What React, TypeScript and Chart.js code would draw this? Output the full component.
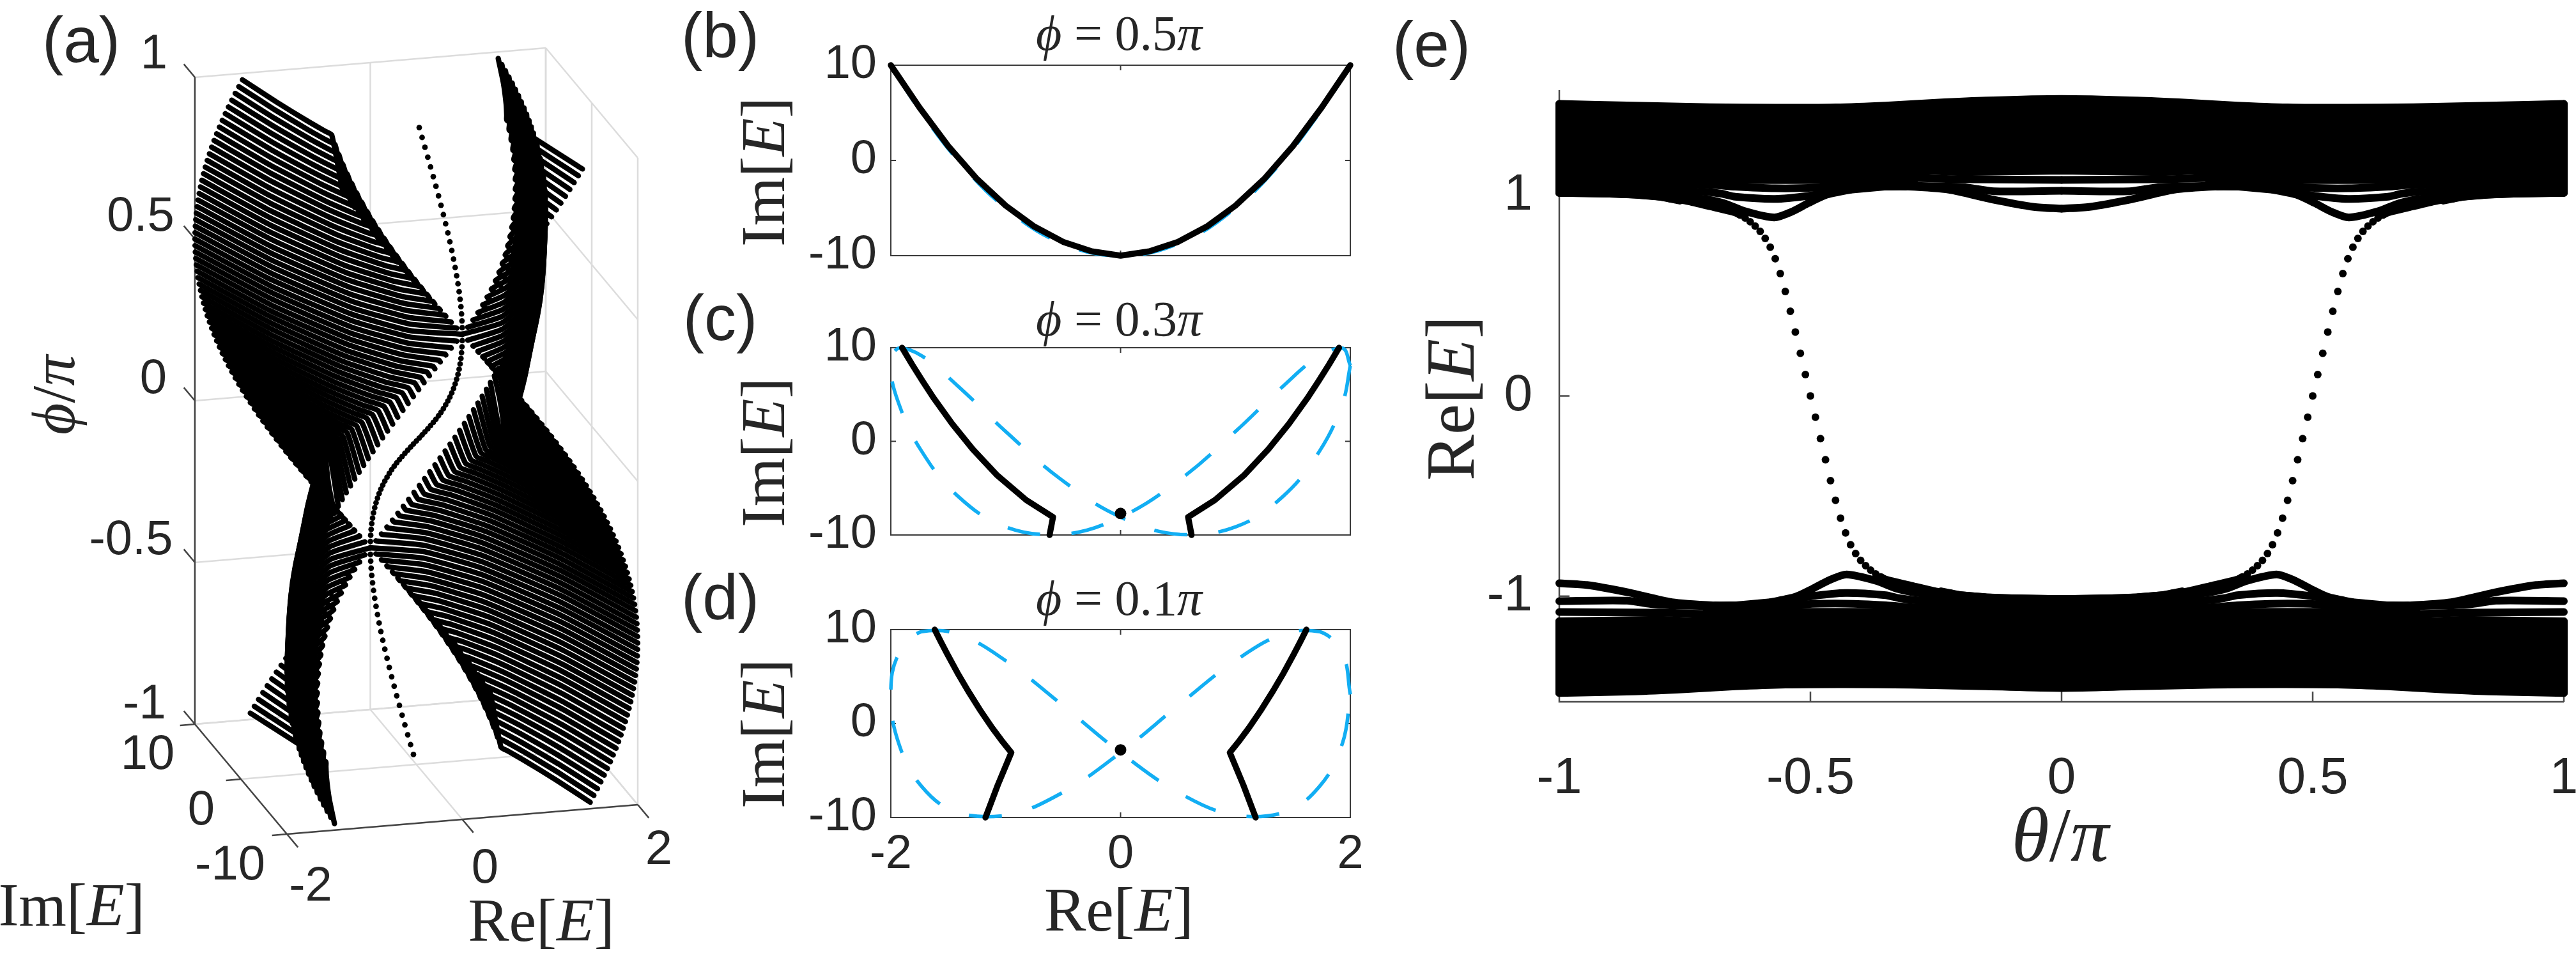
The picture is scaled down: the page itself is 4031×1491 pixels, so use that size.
import React, { useEffect, useRef } from "react";
import { Chart, registerables } from "chart.js";
Chart.register(...registerables);

// DATA PROVENANCE: stripeRows and the blue/black curves of (b)-(d) are hand-typed estimates from
// curve relations fitted to readings of panels (b)-(d), checked against the reference; they were
// not each read point by point. Mirrored sheets in (a) and lens curves in (e) reuse one table,
// relying on the symmetry seen in the reference. The (e) dots were read one by one on one side
// and mirrored; the (e) band edges are estimates.

// ---------- panel (a): one quarter-sheet of the 3D surface, left branch, phi = 0, 0.02 ... 0.5
// columns: Re at Im=10 | Re,Im | Re,Im | Re,Im | kink Re,Im | Re at Im=-10 (Re magnitudes)
const stripeRows = [
  [1.414, 1.265, 6.0, 1.118, 2.5, 1.034, 0.7, 1.0, 0, 1.414],
  [1.458, 1.294, 5.75, 1.131, 2.03, 1.037, 0.12, 0.998, -0.63, 1.369],
  [1.5, 1.321, 5.5, 1.141, 1.56, 1.036, -0.47, 0.992, -1.25, 1.323],
  [1.541, 1.346, 5.25, 1.148, 1.09, 1.031, -1.04, 0.982, -1.87, 1.275],
  [1.58, 1.369, 5.01, 1.152, 0.63, 1.023, -1.61, 0.969, -2.49, 1.226],
  [1.618, 1.39, 4.76, 1.155, 0.18, 1.012, -2.17, 0.951, -3.09, 1.176],
  [1.654, 1.41, 4.53, 1.154, -0.26, 0.998, -2.72, 0.93, -3.68, 1.124],
  [1.689, 1.428, 4.3, 1.152, -0.69, 0.98, -3.26, 0.905, -4.26, 1.072],
  [1.721, 1.444, 4.07, 1.148, -1.11, 0.96, -3.78, 0.876, -4.82, 1.018],
  [1.753, 1.459, 3.86, 1.141, -1.52, 0.937, -4.28, 0.844, -5.36, 0.964],
  [1.782, 1.472, 3.65, 1.133, -1.91, 0.912, -4.77, 0.809, -5.88, 0.908],
  [1.81, 1.484, 3.45, 1.124, -2.28, 0.884, -5.23, 0.771, -6.37, 0.852],
  [1.835, 1.495, 3.26, 1.114, -2.63, 0.854, -5.67, 0.729, -6.85, 0.794],
  [1.86, 1.504, 3.08, 1.103, -2.97, 0.823, -6.08, 0.685, -7.29, 0.736],
  [1.882, 1.512, 2.92, 1.091, -3.28, 0.791, -6.47, 0.637, -7.71, 0.677],
  [1.902, 1.52, 2.76, 1.079, -3.57, 0.758, -6.82, 0.588, -8.09, 0.618],
  [1.921, 1.526, 2.62, 1.067, -3.83, 0.725, -7.15, 0.536, -8.44, 0.558],
  [1.937, 1.531, 2.49, 1.055, -4.07, 0.692, -7.45, 0.482, -8.76, 0.497],
  [1.952, 1.536, 2.38, 1.043, -4.29, 0.66, -7.71, 0.426, -9.05, 0.436],
  [1.965, 1.539, 2.28, 1.033, -4.47, 0.629, -7.95, 0.368, -9.3, 0.375],
  [1.975, 1.543, 2.2, 1.023, -4.63, 0.602, -8.15, 0.309, -9.51, 0.313],
  [1.984, 1.545, 2.13, 1.015, -4.76, 0.577, -8.31, 0.249, -9.69, 0.251],
  [1.991, 1.547, 2.07, 1.009, -4.87, 0.557, -8.44, 0.187, -9.82, 0.188],
  [1.996, 1.548, 2.03, 1.004, -4.94, 0.542, -8.53, 0.125, -9.92, 0.126],
  [1.999, 1.549, 2.01, 1.001, -4.99, 0.532, -8.58, 0.063, -9.98, 0.063],
  [2.0, 1.549, 2.0, 1.0, -5.0, 0.529, -8.6, 0, -10, 0],
];
const aReTicks = [-2, 0, 2];
const aImTicks = [-10, 0, 10];
const aPhiTicks = [-1, -0.5, 0, 0.5, 1];

// ---------- panels (b)-(d)
const reTicks = [-2, 0, 2];
const imTicks = [-10, 0, 10];
const bBlackRe = [-2, -1.75, -1.5, -1.25, -1, -0.75, -0.5, -0.25, 0, 0.25, 0.5, 0.75, 1, 1.25, 1.5, 1.75, 2];
const bBlackIm = [10, 5.55, 1.5, -1.95, -4.75, -6.95, -8.55, -9.55, -10, -9.55, -8.55, -6.95, -4.75, -1.95, 1.5, 5.55, 10];
const bBlueRe = [2, 1.932, 1.732, 1.414, 1, 0.518, 0, -0.518, -1, -1.414, -1.732, -1.932, -2];
const bBlueIm = [10, 8.66, 5, 0, -5, -8.66, -10, -8.66, -5, 0, 5, 8.66, 10];

const cBlackRe = [1.902, 1.814, 1.721, 1.624, 1.465, 1.286, 1.079, 0.82, 0.588, 0.618];
const cBlackIm = [10, 8.19, 6.38, 4.57, 1.86, -0.85, -3.57, -6.28, -8.09, -10];
const cBlueRe = [2, 1.932, 1.732, 1.414, 1, 0.518, 0, -0.518, -1, -1.414, -1.732, -1.932, -2, -1.932, -1.732, -1.414, -1, -0.518, 0, 0.518, 1, 1.414, 1.732, 1.932, 2];
const cBlueIm = [8.09, 9.95, 9.14, 5.88, 1.05, -4.07, -8.09, -9.95, -9.14, -5.88, -1.05, 4.07, 8.09, 9.95, 9.14, 5.88, 1.05, -4.07, -8.09, -9.95, -9.14, -5.88, -1.05, 4.07, 8.09];
const cDotIm = -7.7;

const dBlackRe = [1.618, 1.564, 1.508, 1.421, 1.327, 1.226, 1.117, 1.037, 0.951, 1.069, 1.176];
const dBlackIm = [10, 8.69, 7.38, 5.42, 3.46, 1.49, -0.47, -1.78, -3.09, -6.55, -10];
const dBlueRe = cBlueRe;
const dBlueIm = [3.09, 7.43, 9.78, 9.51, 6.69, 2.08, -3.09, -7.43, -9.78, -9.51, -6.69, -2.08, 3.09, 7.43, 9.78, 9.51, 6.69, 2.08, -3.09, -7.43, -9.78, -9.51, -6.69, -2.08, 3.09];
const dDotIm = -2.8;

// ---------- panel (e)
const eThetaTicks = [-1, -0.5, 0, 0.5, 1];
const eEnergyTicks = [-1, 0, 1];
const eDotTheta = [-0.64, -0.63, -0.62, -0.61, -0.6, -0.59, -0.58, -0.57, -0.56, -0.55, -0.54, -0.53, -0.52, -0.51, -0.5, -0.49, -0.48, -0.47, -0.46, -0.45, -0.44, -0.43, -0.42, -0.41, -0.4, -0.39, -0.38, -0.37, -0.36];
const eDotEnergy = [0.904, 0.889, 0.87, 0.848, 0.822, 0.787, 0.743, 0.685, 0.611, 0.522, 0.423, 0.319, 0.213, 0.107, 0, -0.106, -0.213, -0.318, -0.423, -0.521, -0.61, -0.684, -0.743, -0.787, -0.821, -0.847, -0.87, -0.889, -0.904];
const upperOuterTheta = [-1, -0.85, -0.7, -0.57, -0.45, -0.35, -0.25, -0.15, 0, 0.15, 0.25, 0.35, 0.45, 0.57, 0.7, 0.85, 1];
const upperOuterE = [1.458, 1.45, 1.442, 1.439, 1.441, 1.45, 1.464, 1.475, 1.483, 1.475, 1.464, 1.45, 1.441, 1.439, 1.442, 1.45, 1.458];
const upperInnerTheta = [-1, -0.9, -0.85, -0.8, -0.76, -0.72, -0.6, -0.44, -0.42, -0.35, -0.31, -0.27, -0.2, 0, 0.2, 0.27, 0.31, 0.35, 0.42, 0.44, 0.6, 0.72, 0.76, 0.8, 0.85, 0.9, 1];
const upperInnerE = [1.014, 1.01, 1.005, 0.995, 0.975, 1.078, 1.078, 1.078, 1.03, 1.046, 1.046, 1.125, 1.118, 1.125, 1.118, 1.125, 1.046, 1.046, 1.03, 1.078, 1.078, 1.078, 0.975, 0.995, 1.005, 1.01, 1.014];
const lowerOuterTheta = [-1, -0.85, -0.75, -0.65, -0.55, -0.43, -0.3, -0.15, 0, 0.15, 0.3, 0.43, 0.55, 0.65, 0.75, 0.85, 1];
const lowerOuterE = [-1.483, -1.475, -1.464, -1.45, -1.441, -1.439, -1.442, -1.45, -1.458, -1.45, -1.442, -1.439, -1.441, -1.45, -1.464, -1.475, -1.483];
const lowerInnerTheta = [-1, -0.8, -0.73, -0.69, -0.65, -0.58, -0.56, -0.28, -0.24, -0.2, -0.15, -0.1, 0, 0.1, 0.15, 0.2, 0.24, 0.28, 0.56, 0.58, 0.65, 0.69, 0.73, 0.8, 1];
const lowerInnerE = [-1.125, -1.118, -1.125, -1.046, -1.046, -1.03, -1.078, -1.078, -0.975, -0.995, -1.005, -1.01, -1.014, -1.01, -1.005, -0.995, -0.975, -1.078, -1.078, -1.03, -1.046, -1.046, -1.125, -1.118, -1.125];
// curves read on the upper band for theta <= 0
const edgeTheta = [-1, -0.9, -0.85, -0.8, -0.75, -0.7, -0.65, -0.64];
const edgeE = [1.014, 1.01, 1.005, 0.995, 0.976, 0.947, 0.917, 0.904];
const lensA1Theta = [-0.35, -0.31, -0.224, -0.139, -0.055, 0];
const lensA1E = [1.046, 1.046, 1.03, 0.982, 0.944, 0.935];
const lensA2Theta = [-0.31, -0.22, -0.186, -0.135, 0];
const lensA2E = [1.05, 1.045, 1.04, 1.022, 1.024];
const lensA3Theta = [-0.31, -0.2, 0];
const lensA3E = [1.09, 1.082, 1.079];
const lensB1Theta = [-0.78, -0.72, -0.673, -0.631, -0.572, -0.538, -0.504, -0.47, -0.42];
const lensB1E = [0.985, 0.985, 0.963, 0.923, 0.891, 0.919, 0.963, 1.003, 1.03];
const lensB2Theta = [-0.78, -0.72, -0.677, -0.65, -0.57, -0.504, -0.47, -0.42];
const lensB2E = [0.99, 1.02, 1.01, 0.995, 0.984, 0.999, 1.015, 1.04];
const lensB3Theta = [-0.78, -0.74, -0.7, -0.65, -0.57, -0.49, -0.42];
const lensB3E = [1.0, 1.05, 1.055, 1.045, 1.037, 1.04, 1.055];

// ---------- helpers
const zip = (xs: number[], ys: number[]) => xs.map((x, i) => ({ x, y: ys[i] }));
const INK = "#262626";
const SANS = "'Liberation Sans', Arial, sans-serif";
const SERIF = "'Liberation Serif', serif";

// ----- panel (a) view of the 3D box
const A_ORIGIN_X = 651.5, A_ORIGIN_Y = 690, A_RE_PX = 137.25, A_PHI_PX = 506;
const project = (re: number, im: number, phi: number) => ({
  x: re - (7.2 / 137.25) * im,
  y: phi + (11.5 / 506) * re + (8.6 / 506) * im,
});
const seg = (p: number[], q: number[], color: string, w: number, order: number) => ({
  data: [project(p[0], p[1], p[2]), project(q[0], q[1], q[2])],
  showLine: true, borderColor: color, borderWidth: w, pointRadius: 0, clip: false, order,
});

function panelAConfig(box: { left: number; top: number; width: number; height: number }) {
  const grey = "#dcdcdc", dark = "#444444";
  const ds: any[] = [];
  // back and right walls, floor
  aPhiTicks.forEach((p) => {
    ds.push(seg([-2, 10, p], [2, 10, p], grey, 2.5, 4));
    ds.push(seg([2, 10, p], [2, -10, p], grey, 2.5, 4));
  });
  aReTicks.forEach((r) => {
    ds.push(seg([r, 10, -1], [r, 10, 1], grey, 2.5, 4));
    ds.push(seg([r, 10, -1], [r, -10, -1], grey, 2.5, 4));
  });
  aImTicks.forEach((im) => {
    ds.push(seg([2, im, -1], [2, im, 1], grey, 2.5, 4));
    ds.push(seg([-2, im, -1], [2, im, -1], grey, 2.5, 4));
  });
  // front axes and their outward ticks
  ds.push(seg([-2, 10, -1], [-2, 10, 1], dark, 2.5, 3));
  ds.push(seg([-2, 10, -1], [-2, -10, -1], dark, 2.5, 3));
  ds.push(seg([-2, -10, -1], [2, -10, -1], dark, 2.5, 3));
  aPhiTicks.forEach((p) => ds.push(seg([-2, 10, p], [-2, 12.4, p], dark, 2.5, 3)));
  aReTicks.forEach((r) => ds.push(seg([r, -10, -1], [r, -12.4, -1], dark, 2.5, 3)));
  aImTicks.forEach((im) => ds.push(seg([-2, im, -1], [-2.17, im, -1], dark, 2.5, 3)));

  // surface stripes: the one table is reused for the sheets related by the picture's symmetries
  const dots: any[] = [];
  for (let k = -49; k <= 49; k++) {
    const phi = 0.02 * k;
    const a = Math.abs(k);
    const row = stripeRows[a <= 25 ? a : 50 - a];
    const sign = k < 0 ? -1 : 1;
    const re = [row[0], row[1], row[3], row[5], row[7], row[9]];
    const im = [10, row[2], row[4], row[6], row[8], -10];
    [-1, 1].forEach((side) => {
      ds.push({
        data: re.map((r, i) => project(side * r, sign * im[i], phi)),
        showLine: true, borderColor: "#000", borderWidth: 8.3, pointRadius: 0, clip: false,
        borderCapStyle: "round", borderJoinStyle: "round", tension: 0.15, order: 2,
      });
    });
    dots.push(project(0, sign * row[8], phi));
  }
  ds.push({ data: dots, showLine: false, pointRadius: 4.4, pointBackgroundColor: "#000", pointBorderWidth: 0, clip: false, order: 1 });
  return {
    type: "scatter",
    data: { datasets: ds },
    options: {
      responsive: false, animation: false, devicePixelRatio: 1, events: [],
      layout: { autoPadding: false, padding: 0 },
      plugins: { legend: { display: false }, tooltip: { enabled: false } },
      scales: {
        x: { display: false, min: (box.left - A_ORIGIN_X) / A_RE_PX, max: (box.left + box.width - A_ORIGIN_X) / A_RE_PX },
        y: { display: false, min: (A_ORIGIN_Y - box.top - box.height) / A_PHI_PX, max: (A_ORIGIN_Y - box.top) / A_PHI_PX },
      },
    },
  };
}

// ----- MATLAB-like frame with inward ticks, drawn from the chart's own scales
const framePlugin = (boxed: boolean, tickLen: number, width: number, color: string) => ({
  id: "matlabFrame",
  beforeDatasetsDraw(chart: any) {
    const { ctx, chartArea: a, scales } = chart;
    ctx.save();
    ctx.strokeStyle = color;
    ctx.lineWidth = width;
    ctx.beginPath();
    ctx.moveTo(a.left, a.top); ctx.lineTo(a.left, a.bottom); ctx.lineTo(a.right, a.bottom);
    if (boxed) { ctx.lineTo(a.right, a.top); ctx.closePath(); }
    scales.x.ticks.forEach((t: any) => {
      const px = scales.x.getPixelForValue(t.value);
      ctx.moveTo(px, a.bottom); ctx.lineTo(px, a.bottom - tickLen);
      if (boxed) { ctx.moveTo(px, a.top); ctx.lineTo(px, a.top + tickLen); }
    });
    scales.y.ticks.forEach((t: any) => {
      const py = scales.y.getPixelForValue(t.value);
      ctx.moveTo(a.left, py); ctx.lineTo(a.left + tickLen, py);
      if (boxed) { ctx.moveTo(a.right, py); ctx.lineTo(a.right - tickLen, py); }
    });
    ctx.stroke();
    ctx.restore();
  },
});

function axisOptions(values: number[], min: number, max: number, size: number, fontPx: number, show: boolean, pad: number, isX: boolean) {
  return {
    type: "linear", min, max,
    grid: { display: false, drawTicks: false },
    border: { display: false },
    afterBuildTicks: (s: any) => { s.ticks = values.map((value) => ({ value })); },
    afterFit: (s: any) => {
      if (isX) s.height = size; else s.width = size;
      s.paddingLeft = 0; s.paddingRight = 0; s.paddingTop = 0; s.paddingBottom = 0;
    },
    ticks: {
      display: show, padding: pad, color: INK, autoSkip: false, maxRotation: 0, minRotation: 0,
      font: { family: SANS, size: fontPx }, callback: (v: any) => String(v),
    },
  };
}

function spectrumConfig(blackRe: number[], blackIm: number[], blueRe: number[], blueIm: number[], dotIm: number | null,
  box: { top: number; height: number }, plotTop: number, plotBottom: number, showX: boolean) {
  const line = (data: any[]) => ({
    data, showLine: true, borderColor: "#000", borderWidth: 9.5, pointRadius: 0, clip: false,
    borderCapStyle: "round", borderJoinStyle: "round", order: 2,
  });
  const ds: any[] = [
    { data: zip(blueRe, blueIm), showLine: true, borderColor: "#12aef3", borderWidth: 5.5, borderDash: [52, 49], borderDashOffset: 4, pointRadius: 0, tension: 0.4, clip: false, order: 3 },
  ];
  if (blackRe[0] > 0) {
    ds.push(line(zip(blackRe, blackIm)));
    ds.push(line(zip(blackRe.map((r) => -r), blackIm)));
  } else {
    ds.push(line(zip(blackRe, blackIm)));
  }
  if (dotIm !== null) ds.push({ data: [{ x: 0, y: dotIm }], showLine: false, pointRadius: 9, pointBackgroundColor: "#000", pointBorderWidth: 0, clip: false, order: 1 });
  return {
    type: "scatter",
    data: { datasets: ds },
    plugins: [framePlugin(true, 8, 2, "#3a3a3a")],
    options: {
      responsive: false, animation: false, devicePixelRatio: 1, events: [],
      layout: { autoPadding: false, padding: { top: plotTop - box.top, right: 47, left: 0, bottom: 0 } },
      plugins: { legend: { display: false }, tooltip: { enabled: false } },
      scales: {
        x: axisOptions(reTicks, -2, 2, box.top + box.height - plotBottom, 74, showX, 14, true),
        y: axisOptions(imTicks, -10, 10, 184, 74, true, 22, false),
      },
    },
  };
}

function panelEConfig(box: { top: number; height: number }) {
  const thick = (data: any[], tension = 0.25) => ({
    data, showLine: true, borderColor: "#000", borderWidth: 12, pointRadius: 0, clip: false,
    borderCapStyle: "round", borderJoinStyle: "round", tension,
  });
  const ds: any[] = [];
  ds.push(thick(zip(upperOuterTheta, upperOuterE), 0.3));
  ds.push({ ...thick(zip(upperInnerTheta, upperInnerE), 0), fill: "-1", backgroundColor: "#000" });
  ds.push(thick(zip(lowerOuterTheta, lowerOuterE), 0.3));
  ds.push({ ...thick(zip(lowerInnerTheta, lowerInnerE), 0), fill: "-1", backgroundColor: "#000" });
  ds.push(thick([{ x: -1, y: 1.014 }, { x: -1, y: 1.458 }], 0));
  ds.push(thick([{ x: 1, y: 1.014 }, { x: 1, y: 1.458 }], 0));
  ds.push(thick([{ x: -1, y: -1.125 }, { x: -1, y: -1.483 }], 0));
  ds.push(thick([{ x: 1, y: -1.125 }, { x: 1, y: -1.483 }], 0));
  const curves = [
    [edgeTheta, edgeE], [lensA1Theta, lensA1E], [lensA2Theta, lensA2E], [lensA3Theta, lensA3E],
    [lensB1Theta, lensB1E], [lensB2Theta, lensB2E], [lensB3Theta, lensB3E],
  ];
  curves.forEach(([t, e]) => {
    ds.push(thick(zip(t, e)));
    ds.push(thick(zip(t.map((v) => -v), e)));
    ds.push(thick(zip(t.map((v) => v + 1), e.map((v) => -v))));
    ds.push(thick(zip(t.map((v) => -v - 1), e.map((v) => -v))));
  });
  [1, -1].forEach((s) => {
    ds.push({ data: zip(eDotTheta.map((v) => s * v), eDotEnergy), showLine: false, pointRadius: 6, pointBackgroundColor: "#000", pointBorderWidth: 0, clip: false });
  });
  return {
    type: "scatter",
    data: { datasets: ds },
    plugins: [framePlugin(false, 16, 2.5, "#4a4a4a")],
    options: {
      responsive: false, animation: false, devicePixelRatio: 1, events: [],
      layout: { autoPadding: false, padding: { top: 141 - box.top, right: 19, left: 0, bottom: 0 } },
      plugins: { legend: { display: false }, tooltip: { enabled: false } },
      scales: {
        x: axisOptions(eThetaTicks, -1, 1, box.top + box.height - 1098, 80, true, 73, true),
        y: axisOptions(eEnergyTicks, -1.527, 1.527, 200, 80, true, 42, false),
      },
    },
  };
}

function Panel({ box, make }: { box: any; make: () => any }) {
  const ref = useRef<HTMLCanvasElement | null>(null);
  useEffect(() => {
    const chart = new Chart(ref.current as any, make());
    return () => chart.destroy();
  }, []);
  return (
    <canvas ref={ref} width={box.width} height={box.height}
      style={{ position: "absolute", left: box.left, top: box.top, width: box.width, height: box.height }} />
  );
}

function Txt({ x, y, size, font = SANS, rot = 0, color = INK, spacing = 0, children }: any) {
  return (
    <span style={{
      position: "absolute", left: x, top: y, fontFamily: font, fontSize: size, color, lineHeight: 1,
      letterSpacing: spacing, whiteSpace: "nowrap", transform: `translate(-50%,-50%) rotate(${rot}deg)`,
    }}>{children}</span>
  );
}
const ImE = () => <>Im[<i>E</i>]</>;
const ReE = () => <>Re[<i>E</i>]</>;

const boxA = { left: 180, top: 40, width: 870, height: 1370 };
const boxB = { left: 1210, top: 30, width: 950, height: 430 };
const boxC = { left: 1210, top: 480, width: 950, height: 420 };
const boxD = { left: 1210, top: 920, width: 950, height: 460 };
const boxE = { left: 2240, top: 100, width: 1791, height: 1190 };

export default function App() {
  useEffect(() => {
    document.body.style.margin = "0";
    document.body.style.background = "#fff";
  }, []);
  return (
    <div style={{ position: "relative", width: 4031, height: 1491, overflow: "hidden", background: "#fff" }}>
      <Panel box={boxA} make={() => panelAConfig(boxA)} />
      <Panel box={boxB} make={() => spectrumConfig(bBlackRe, bBlackIm, bBlueRe, bBlueIm, null, boxB, 102, 400, false)} />
      <Panel box={boxC} make={() => spectrumConfig(cBlackRe, cBlackIm, cBlueRe, cBlueIm, cDotIm, boxC, 544, 837, false)} />
      <Panel box={boxD} make={() => spectrumConfig(dBlackRe, dBlackIm, dBlueRe, dBlueIm, dDotIm, boxD, 985, 1279, true)} />
      <Panel box={boxE} make={() => panelEConfig(boxE)} />

      <Txt x={127} y={62} size={100}>(a)</Txt>
      <Txt x={1127} y={55} size={100}>(b)</Txt>
      <Txt x={1127} y={497} size={100}>(c)</Txt>
      <Txt x={1127} y={934} size={100}>(d)</Txt>
      <Txt x={2240} y={69} size={100}>(e)</Txt>

      <Txt x={241} y={81} size={76}>1</Txt>
      <Txt x={220} y={335} size={76}>0.5</Txt>
      <Txt x={240} y={589} size={76}>0</Txt>
      <Txt x={205} y={841} size={76}>-0.5</Txt>
      <Txt x={226} y={1098} size={76}>-1</Txt>
      <Txt x={231} y={1177} size={76}>10</Txt>
      <Txt x={315} y={1264} size={76}>0</Txt>
      <Txt x={360} y={1350} size={76}>-10</Txt>
      <Txt x={486} y={1383} size={76}>-2</Txt>
      <Txt x={759} y={1355} size={76}>0</Txt>
      <Txt x={1031} y={1326} size={76}>2</Txt>
      <Txt x={84} y={618} size={96} font={SERIF} rot={-90}><i>ϕ</i>/<i>π</i></Txt>
      <Txt x={112} y={1416} size={96} font={SERIF}><ImE /></Txt>
      <Txt x={847} y={1440} size={96} font={SERIF}><ReE /></Txt>

      <Txt x={1751} y={52} size={78} font={SERIF}><i>ϕ</i> = 0.5<i>π</i></Txt>
      <Txt x={1751} y={499} size={78} font={SERIF}><i>ϕ</i> = 0.3<i>π</i></Txt>
      <Txt x={1751} y={936} size={78} font={SERIF}><i>ϕ</i> = 0.1<i>π</i></Txt>
      <Txt x={1194} y={269} size={98} font={SERIF} rot={-90}><ImE /></Txt>
      <Txt x={1194} y={708} size={98} font={SERIF} rot={-90}><ImE /></Txt>
      <Txt x={1194} y={1148} size={98} font={SERIF} rot={-90}><ImE /></Txt>
      <Txt x={1751} y={1423} size={98} font={SERIF}><ReE /></Txt>

      <Txt x={2270} y={623} size={108} font={SERIF} rot={-90}><ReE /></Txt>
      <Txt x={3224} y={1307} size={120} font={SERIF}><i>θ</i>/<i>π</i></Txt>
    </div>
  );
}
